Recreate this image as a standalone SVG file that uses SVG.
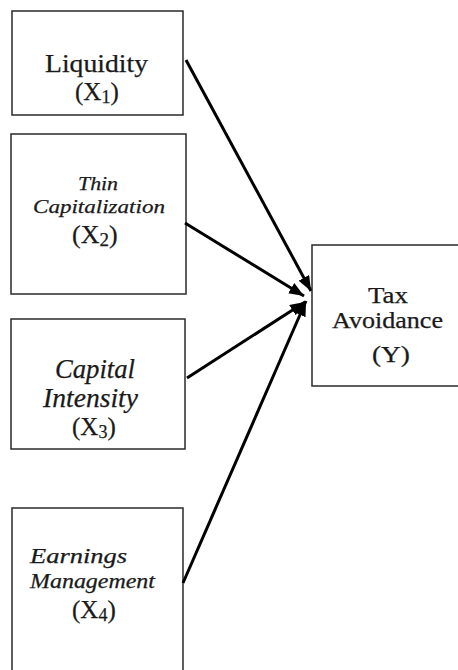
<svg xmlns="http://www.w3.org/2000/svg" width="458" height="670" viewBox="0 0 458 670">
<style>
.box{fill:#fff;stroke:#2a2a2a;stroke-width:1.5}
.t{font-family:"Liberation Serif","Times New Roman",serif;fill:#1a1a1a;stroke:#1a1a1a;stroke-width:0.25}
.i{font-style:italic}
.c{text-anchor:middle}
.edge{stroke:#000;stroke-width:3;fill:none;marker-end:url(#ah)}
</style>
<defs>
<marker id="ah" markerUnits="userSpaceOnUse" markerWidth="16" markerHeight="14" refX="15" refY="6" orient="auto">
<path d="M0,0 L15,6 L0,12 z" fill="#000"/>
</marker>
</defs>
<rect width="458" height="670" fill="#fff"/>
<g id="x1">
<rect class="box" x="12" y="11" width="171" height="104"/>
<text class="t c" x="96.5" y="72" font-size="25" textLength="103" lengthAdjust="spacingAndGlyphs">Liquidity</text>
<text class="t" x="75" y="100" font-size="25">(X<tspan font-size="18" dy="3">1</tspan><tspan dy="-3">)</tspan></text>
</g>
<g id="x2">
<rect class="box" x="11" y="134" width="175" height="160"/>
<text class="t i c" x="98" y="190" font-size="18" textLength="40" lengthAdjust="spacingAndGlyphs">Thin</text>
<text class="t i c" x="99" y="213" font-size="19" textLength="132" lengthAdjust="spacingAndGlyphs">Capitalization</text>
<text class="t" x="72" y="243" font-size="26">(X<tspan font-size="19" dy="3">2</tspan><tspan dy="-3">)</tspan></text>
</g>
<g id="x3">
<rect class="box" x="11" y="319" width="174" height="130"/>
<text class="t i c" x="95" y="378" font-size="27" textLength="80" lengthAdjust="spacingAndGlyphs">Capital</text>
<text class="t i c" x="90.5" y="407" font-size="27" textLength="95" lengthAdjust="spacingAndGlyphs">Intensity</text>
<text class="t" x="72" y="435" font-size="25">(X<tspan font-size="18" dy="3">3</tspan><tspan dy="-3">)</tspan></text>
</g>
<g id="x4">
<rect class="box" x="12" y="508" width="171" height="175"/>
<text class="t i c" x="78.5" y="563" font-size="20" textLength="97" lengthAdjust="spacingAndGlyphs">Earnings</text>
<text class="t i c" x="92.5" y="588" font-size="20" textLength="125" lengthAdjust="spacingAndGlyphs">Management</text>
<text class="t" x="72" y="618" font-size="25">(X<tspan font-size="18" dy="3">4</tspan><tspan dy="-3">)</tspan></text>
</g>
<g id="y">
<rect class="box" x="312" y="245" width="160" height="141"/>
<text class="t c" x="388" y="303" font-size="23" textLength="40" lengthAdjust="spacingAndGlyphs">Tax</text>
<text class="t c" x="387.5" y="328" font-size="23" textLength="111" lengthAdjust="spacingAndGlyphs">Avoidance</text>
<text class="t c" x="391" y="362" font-size="24" textLength="38" lengthAdjust="spacingAndGlyphs">(Y)</text>
</g>
<g id="connectors">
<line class="edge" x1="186" y1="60" x2="311" y2="291"/>
<line class="edge" x1="185" y1="223" x2="304" y2="296"/>
<line class="edge" x1="187" y1="378" x2="305" y2="302"/>
<line class="edge" x1="183" y1="583" x2="306" y2="301"/>
</g>
</svg>
